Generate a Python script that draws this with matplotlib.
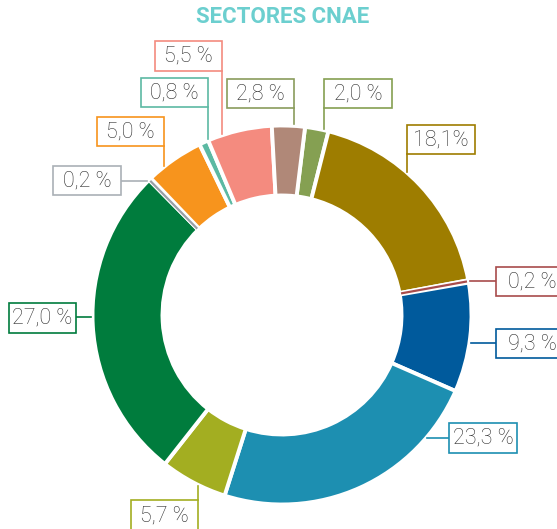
import numpy as np
import matplotlib.pyplot as plt
from matplotlib.patches import Rectangle

# Datos (sentido horario desde arriba)
valores = [2.0, 18.1, 0.2, 9.3, 23.3, 5.7, 27.0, 0.2, 5.0, 0.8, 5.5, 2.8]
etiquetas = ['2,0 %', '18,1%', '0,2 %', '9,3 %', '23,3 %', '5,7 %',
             '27,0 %', '0,2 %', '5,0 %', '0,8 %', '5,5 %', '2,8 %']
colores = ['#85a052', '#9e7d00', '#a84b4b', '#005a9c', '#1d8fb1', '#a3ae21',
           '#007c3d', '#9aa0a6', '#f7941d', '#5cb9a3', '#f48b7f', '#b08878']
titulo = 'SECTORES CNAE'

# Geometría en px (origen arriba a la izquierda)
W, H = 557, 529
CX, CY = 282, 315
R_EXT, R_INT = 188, 121
INICIO = 83  # startangle

# cajas de etiqueta: (x0, y0, ancho, alto) y conector ('v', x) / ('h', y)
cajas = [(324, 79, 68, 29), (407, 125, 68, 29), (496, 267, 72, 29),
         (496, 329, 72, 29), (449, 423, 68, 30), (131, 500, 67, 32),
         (9, 303, 67, 30), (53, 166, 68, 29), (97, 117, 67, 29),
         (141, 78, 67, 29), (155, 41, 67, 30), (227, 79, 67, 29)]
conectores = [('v', 324), ('v', 407), ('h', 281), ('h', 343), ('h', 438),
              ('v', 198), ('h', 317), ('h', 181), ('v', 164), ('v', 208),
              ('v', 222), ('v', 294)]
bordes = list(colores)
bordes[7] = '#aab0b6'
bordes[11] = '#8a9c5c'

fig = plt.figure(figsize=(W / 100, H / 100), dpi=100)
ax = fig.add_axes([0, 0, 1, 1])

ax.pie(valores, colors=colores, startangle=INICIO, counterclock=False,
       radius=R_EXT + 1.5, center=(CX, H - CY),
       wedgeprops=dict(width=R_EXT - R_INT + 3, edgecolor='white', linewidth=2.8))

# porciones muy pequeñas: una línea para que se vean
acum = np.cumsum([0] + valores[:-1])
for v, a, c in zip(valores, acum, colores):
    if v < 0.5:
        t = np.deg2rad(INICIO - (a + v / 2) * 3.6)
        ax.plot([CX + R_INT * np.cos(t), CX + R_EXT * np.cos(t)],
                [H - CY + R_INT * np.sin(t), H - CY + R_EXT * np.sin(t)],
                color=c, lw=1.6, solid_capstyle='butt')

gap = 3
for (x0, y0, w, h), (tipo, pos), txt, ec in zip(cajas, conectores, etiquetas, bordes):
    ax.add_patch(Rectangle((x0, H - y0 - h), w, h, facecolor='white',
                           edgecolor=ec, linewidth=1.2, zorder=3))
    ax.text(x0 + w / 2, H - y0 - h / 2, txt, ha='center', va='center',
            fontsize=15.5, family='Roboto', fontweight='light',
            color='#2e2e2e', zorder=4)
    if tipo == 'v':
        d = np.sqrt(R_EXT ** 2 - (pos - CX) ** 2)
        if y0 + h < CY:
            ys = [y0 + h, CY - d - gap]
        else:
            ys = [y0, CY + d + gap]
        ax.plot([pos, pos], [H - ys[0], H - ys[1]], color=ec, lw=1.2, zorder=2)
    else:
        d = np.sqrt(R_EXT ** 2 - (pos - CY) ** 2)
        if x0 + w < CX:
            xs = [x0 + w, CX - d - gap]
        else:
            xs = [x0, CX + d + gap]
        ax.plot(xs, [H - pos, H - pos], color=ec, lw=1.2, zorder=2)

fig.text(283 / W, 1 - 17 / H, titulo, ha='center', va='center', fontsize=16,
         fontweight='bold', family='Roboto', color='#6ccfcf')

ax.set_xlim(0, W)
ax.set_ylim(0, H)
ax.set_aspect('equal')
ax.axis('off')

fig.savefig('out.png', dpi=100)
